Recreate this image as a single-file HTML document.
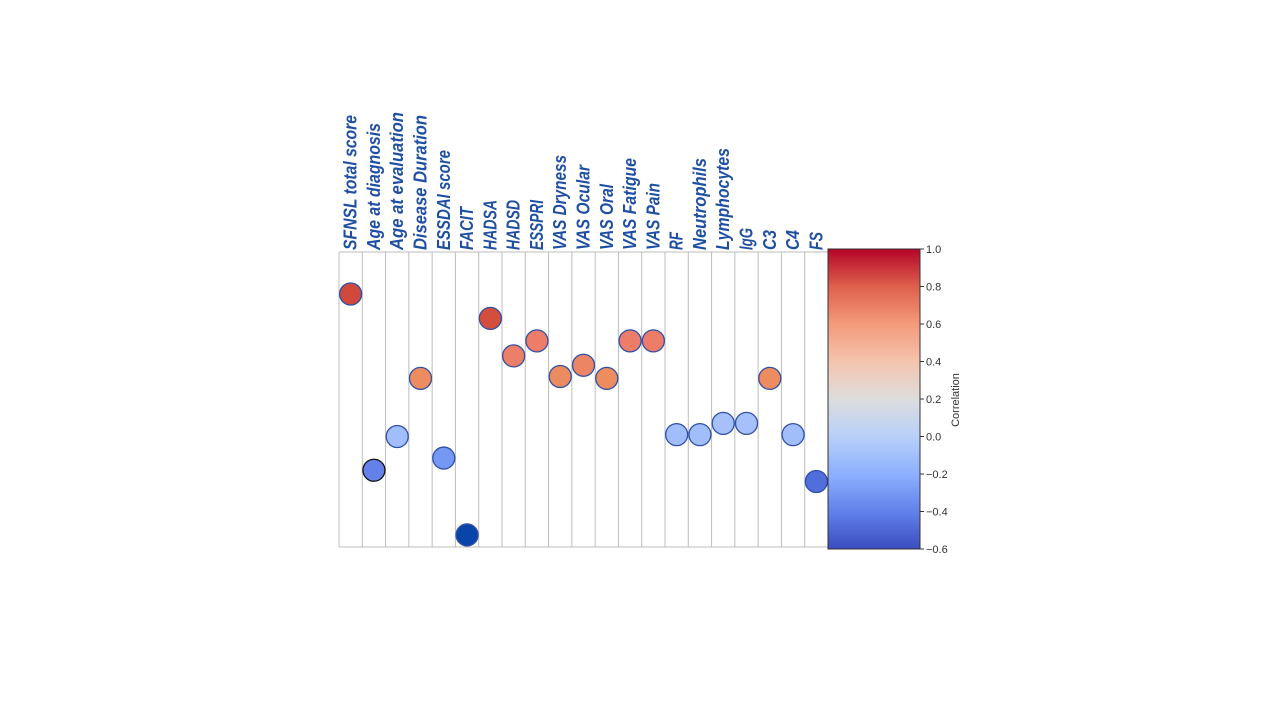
<!DOCTYPE html>
<html><head><meta charset="utf-8"><style>
html,body{margin:0;padding:0;background:#fff;}
svg{display:block;font-family:"Liberation Sans",sans-serif;}
</style></head><body>
<svg id="chart" width="1280" height="720" viewBox="0 0 1280 720">
<defs>
<linearGradient id="cbgrad" x1="0" y1="1" x2="0" y2="0">
<stop offset="0" stop-color="rgb(59,76,192)"/>
<stop offset="0.125" stop-color="rgb(98,130,234)"/>
<stop offset="0.25" stop-color="rgb(141,176,254)"/>
<stop offset="0.375" stop-color="rgb(184,208,249)"/>
<stop offset="0.5" stop-color="rgb(221,221,221)"/>
<stop offset="0.625" stop-color="rgb(245,196,173)"/>
<stop offset="0.75" stop-color="rgb(244,154,123)"/>
<stop offset="0.875" stop-color="rgb(222,96,77)"/>
<stop offset="1" stop-color="rgb(180,4,38)"/>
</linearGradient>
</defs>
<g id="grid"></g>
<g id="labels"></g>
<g id="dots"></g>
<g id="colorbar"></g>
</svg>
<script>
const categories = ["SFNSL total score","Age at diagnosis","Age at evaluation","Disease Duration","ESSDAI score","FACIT","HADSA","HADSD","ESSPRI","VAS Dryness","VAS Ocular","VAS Oral","VAS Fatigue","VAS Pain","RF","Neutrophils","Lymphocytes","IgG","C3","C4","FS"];
const correlations = [0.76,-0.18,0.0,0.31,-0.115,-0.525,0.63,0.43,0.51,0.32,0.38,0.31,0.51,0.51,0.01,0.01,0.07,0.07,0.31,0.01,-0.24];
const cbTicks = [1.0,0.8,0.6,0.4,0.2,0.0,-0.2,-0.4,-0.6];

const labelLengths = [135,127,138,135,100,43,50,50,50,95,85,66,92,67,18,92,102,22,20,20,18];
const NS="http://www.w3.org/2000/svg";
const plotL=339, plotR=828, plotT=252, plotB=547;
const vMin=-0.6, vMax=1.0, cbT=249, cbB=549;
const colW=(plotR-plotL)/categories.length;
function xCenter(i){return plotL+colW*(i+0.5);}
function yScale(v){return cbB-(v-vMin)/(vMax-vMin)*(cbB-cbT);}
const dotStops=[[-0.6,[5,65,165]],[-0.5,[10,70,170]],[-0.24,[80,110,220]],[-0.12,[115,150,245]],[0.0,[162,190,250]],[0.08,[165,192,250]],[0.2,[225,175,150]],[0.31,[236,140,95]],[0.45,[236,125,105]],[0.55,[238,125,105]],[0.63,[212,78,62]],[1.0,[200,65,55]]];
function dotColor(v){
  if(v<=dotStops[0][0])return `rgb(${dotStops[0][1].join(',')})`;
  for(let i=0;i<dotStops.length-1;i++){const a=dotStops[i],b=dotStops[i+1];
    if(v<=b[0]){const f=(v-a[0])/(b[0]-a[0]);return `rgb(${a[1].map((c,k)=>Math.round(c+(b[1][k]-c)*f)).join(',')})`;}}
  return `rgb(${dotStops[dotStops.length-1][1].join(',')})`;
}
function mk(tag,attrs,parent){const e=document.createElementNS(NS,tag);for(const k in attrs)e.setAttribute(k,attrs[k]);parent.appendChild(e);return e;}

const grid=document.getElementById('grid');
for(let i=0;i<=categories.length;i++){
  const x=plotL+colW*i;
  const l=mk('line',{x1:x,x2:x,y1:plotT,y2:plotB,stroke:'#bdbdbd','stroke-width':1},grid);
  
  
}
['T','B'].forEach(s=>{const y=s==='T'?plotT:plotB;
  const l=mk('line',{x1:plotL,x2:plotR,y1:y,y2:y,stroke:'#bdbdbd','stroke-width':1},grid);
  
  });

const labels=document.getElementById('labels');
categories.forEach((c,i)=>{
  const x=xCenter(i)+6, y=plotT-2;
  const t=mk('text',{x:x,y:y,transform:`rotate(-90 ${x} ${y})`,'font-size':18,'font-weight':'bold','font-style':'italic',fill:'#1f4fa3',textLength:labelLengths[i],lengthAdjust:'spacingAndGlyphs'},labels);
  t.textContent=c;
  
  
});

const dots=document.getElementById('dots');
correlations.forEach((v,i)=>{
  const c=mk('circle',{cx:xCenter(i),cy:yScale(v),r:11,fill:dotColor(v),stroke:i===1?'#111':'#2f4fa6','stroke-width':1.3},dots);
  
  
});

const cb=document.getElementById('colorbar');
const r=mk('rect',{x:828,y:cbT,width:92,height:cbB-cbT,fill:'url(#cbgrad)',stroke:'#333','stroke-width':1},cb);


cbTicks.forEach(v=>{
  const y=yScale(v);
  const tk=mk('line',{x1:920,x2:924,y1:y,y2:y,stroke:'#333'},cb);
  
  
  const t=mk('text',{x:926,y:y+4,'font-size':11,fill:'#333'},cb);
  t.textContent=(v<0?'\u2212':'')+Math.abs(v).toFixed(1);
  
  
});
const ct=mk('text',{x:959,y:400,transform:'rotate(-90 959 400)','font-size':11,fill:'#333','text-anchor':'middle'},cb);
ct.textContent='Correlation';


</script>
</body></html>
